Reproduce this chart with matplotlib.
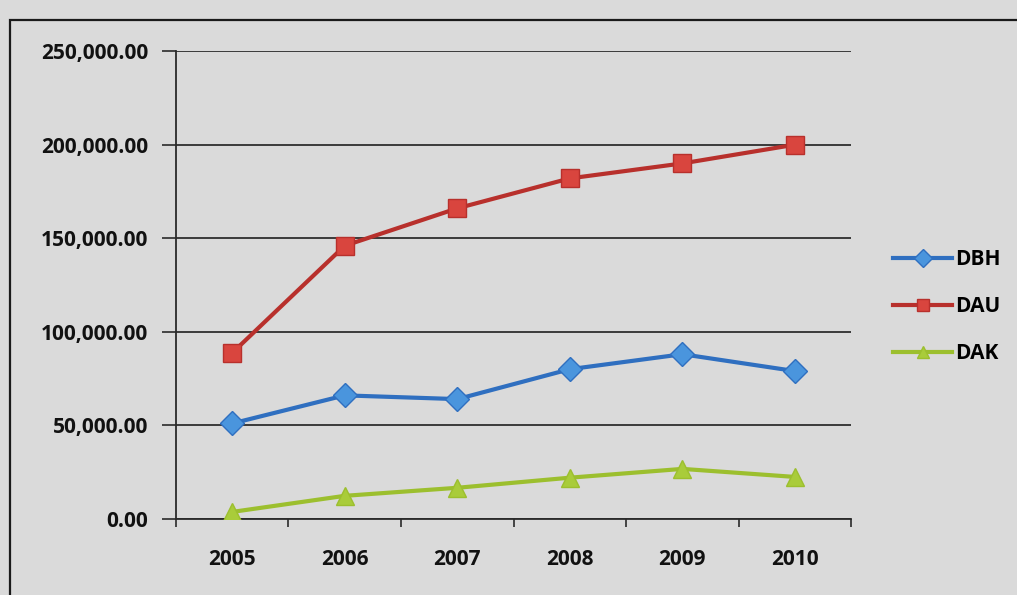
import numpy as np
import matplotlib.pyplot as plt
from matplotlib.patches import Rectangle
from matplotlib.ticker import FuncFormatter

years = ["2005", "2006", "2007", "2008", "2009", "2010"]
dbh = [51000, 66000, 64000, 80000, 88000, 79000]
dau = [88700, 146000, 166000, 182000, 190000, 200000]
dak = [3700, 12300, 16600, 22000, 26700, 22400]

plt.rcParams['font.family'] = ['Open Sans', 'DejaVu Sans']
bg = '#dadada'
fs = 15

fig = plt.figure(figsize=(10.17, 5.95), dpi=100, facecolor=bg)
ax = fig.add_axes([0.173, 0.128, 0.664, 0.786], facecolor=bg)

# outer frame of the chart area (runs off the right and bottom of the photo)
fig.patches.append(Rectangle((0.010, -0.05), 1.2, 1.016,
                             transform=fig.transFigure, fill=False,
                             edgecolor='#1a1a1a', linewidth=1.6))

x = np.arange(len(years))
series = [
    ("DBH", dbh, '#2f6fc0', '#4a95dd', 'D', 12),
    ("DAU", dau, '#b8302c', '#d9453e', 's', 13),
    ("DAK", dak, '#9cbf2e', '#a9cc3a', '^', 13),
]
for name, vals, lc, mc, mk, ms in series:
    ax.plot(x, vals, color=lc, linewidth=3.0, marker=mk, markersize=ms,
            markerfacecolor=mc, markeredgecolor=lc, markeredgewidth=1.0,
            label=name, zorder=3)

ax.set_xlim(-0.5, len(years) - 0.5)
ax.set_ylim(0, 250000)
ax.set_yticks(np.arange(0, 250001, 50000))
ax.yaxis.set_major_formatter(FuncFormatter(lambda v, p: f"{v:,.2f}"))
ax.grid(axis='y', color='#2e2e2e', linewidth=1.3, zorder=1)

ax.set_xticks(x)
ax.set_xticklabels(years)
ax.set_xticks(np.arange(-0.5, len(years)), minor=True)
ax.tick_params(axis='x', which='major', length=0, pad=22)
ax.tick_params(axis='x', which='minor', length=6, width=1.2, direction='out', color='#2a2a2a')
ax.tick_params(axis='y', length=10, width=1.2, color='#2a2a2a', pad=10)
for lab in ax.get_xticklabels() + ax.get_yticklabels():
    lab.set_fontsize(fs)
    lab.set_fontweight('bold')
    lab.set_color('#111111')

for s in ['top', 'right']:
    ax.spines[s].set_visible(False)
for s in ['left', 'bottom']:
    ax.spines[s].set_color('#2a2a2a')
    ax.spines[s].set_linewidth(1.3)

leg = fig.legend(loc='center left', bbox_to_anchor=(0.860, 0.485), frameon=False,
                 handlelength=2.8, labelspacing=1.25, handletextpad=0.15,
                 prop={'weight': 'bold', 'size': fs})
for h in leg.legend_handles:
    h.set_markersize(9)

fig.savefig('out.png', dpi=100, facecolor=bg)
